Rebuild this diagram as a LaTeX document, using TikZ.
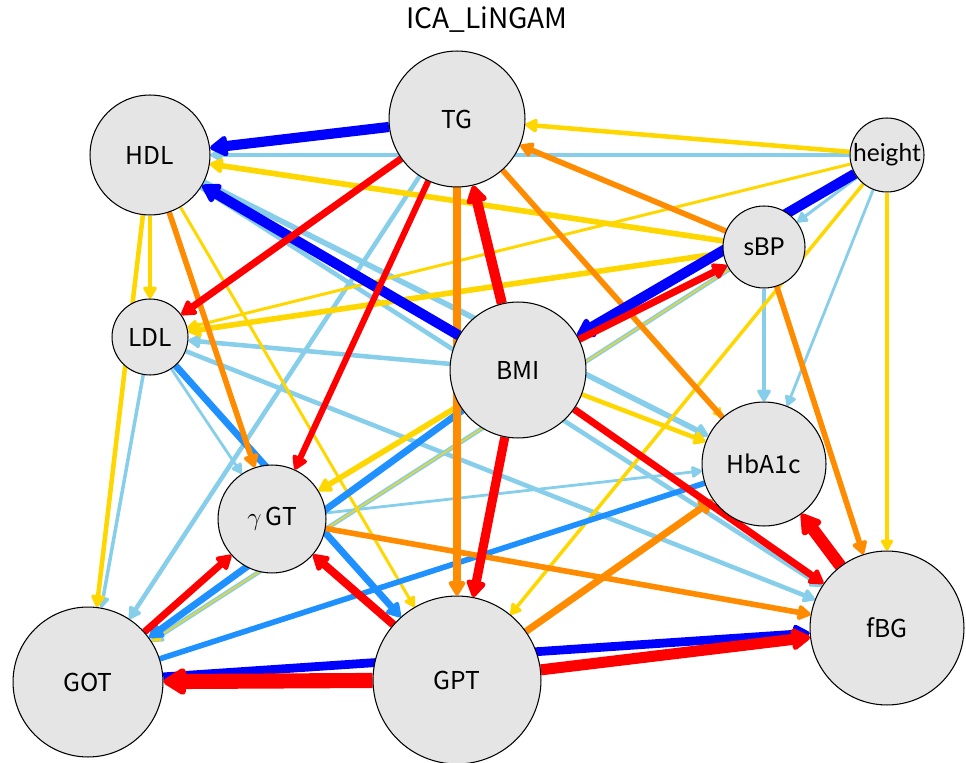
\documentclass[tikz,border=0pt]{standalone}
\usepackage{fontspec}
\setmainfont{Noto Sans CJK JP}
\newfontfamily\latofont{Lato}
\usetikzlibrary{arrows.meta,backgrounds}

\definecolor{skyblue}{RGB}{135,206,235}
\definecolor{dodger}{RGB}{30,144,255}
\definecolor{dorange}{RGB}{255,140,0}
\definecolor{gold}{RGB}{255,215,0}

\begin{document}
\begin{tikzpicture}
  [x=0.02cm,y=-0.02cm,>={Triangle[round,length=5pt 1.1,width=5pt 1.4]},
   every node/.style={circle,draw,line width=0.6pt,fill=black!10,inner sep=0pt,
     font=\fontsize{14}{16}\selectfont},
   rad/.style={minimum size=#1*0.04cm}]
  \useasboundingbox (0,0) rectangle (966,763);
  \node[draw=none,fill=none,font=\fontsize{16}{18}\selectfont] (title) at (487,20) {ICA\_LiNGAM};
  \node[rad=68] (TG) at (457,119) {TG};
  \node[rad=60] (HDL) at (150,155) {HDL};
  \node[rad=37,font=\fontsize{14}{16}\latofont] (height) at (887,155) {height};
  \node[rad=41,font=\fontsize{14}{16}\latofont] (sBP) at (764,247) {sBP};
  \node[rad=38] (LDL) at (150,337) {LDL};
  \node[rad=68] (BMI) at (518,370) {BMI};
  \node[rad=62] (HbA1c) at (764,464) {HbA1c};
  \node[rad=54] (gGT) at (272,519) {$\gamma$\,GT};
  \node[rad=77] (fBG) at (887,628) {fBG};
  \node[rad=75] (GOT) at (88,682) {GOT};
  \node[rad=84] (GPT) at (457,680) {GPT};

\begin{pgfonlayer}{background}
\foreach \from/\to/\w in
{height/HDL/2.6, height/sBP/1.7, height/HbA1c/1.6, sBP/HbA1c/2.6, BMI/LDL/2.6,
 LDL/fBG/2.6, LDL/gGT/1.6, LDL/GOT/2, TG/GOT/2.6, HDL/HbA1c/3.2, HDL/fBG/2.6,
 gGT/HbA1c/1.6, sBP/GOT/2.6}
    \draw[->,skyblue,line width=\w pt] (\from) -- (\to);
\foreach \from/\to/\w in
{height/TG/2.6, sBP/HDL/3.2, HDL/LDL/2.6, HDL/GOT/2.6, HDL/GPT/1.7, height/LDL/1.7,
 sBP/LDL/3.2, height/fBG/2, height/GPT/2, BMI/gGT/3.2, BMI/HbA1c/2.6,
 TG/HbA1c/0.9, sBP/GOT/0.7}
    \draw[->,gold,line width=\w pt] (\from) -- (\to);
\draw[dodger,line width=3.2pt] (GOT) -- (HbA1c);
\foreach \from/\to/\w in
{BMI/GOT/3.9, LDL/GPT/3.9}
    \draw[->,dodger,line width=\w pt] (\from) -- (\to);
\draw[dorange,line width=3.2pt] (TG) -- (HbA1c);
\foreach \from/\to/\w in
{HDL/gGT/3.2, TG/GPT/4, sBP/TG/3.2, sBP/fBG/3.2, gGT/fBG/3.2, GPT/HbA1c/4,
 HbA1c/fBG/2}
    \draw[->,dorange,line width=\w pt] (\from) -- (\to);
\foreach \from/\to/\w in
{TG/HDL/5.8, BMI/HDL/5.8, height/BMI/5.8, GOT/fBG/5}
    \draw[->,blue,line width=\w pt] (\from) -- (\to);
\foreach \from/\to/\w in
{BMI/TG/5.8, TG/LDL/4, TG/gGT/3.5, BMI/sBP/4, BMI/fBG/4, BMI/GPT/5.2,
 GOT/gGT/4, GPT/gGT/4.6, GPT/GOT/8.6, GPT/fBG/6.3, fBG/HbA1c/7}
    \draw[->,red,line width=\w pt] (\from) -- (\to);
\end{pgfonlayer}

\end{tikzpicture}
\end{document}
